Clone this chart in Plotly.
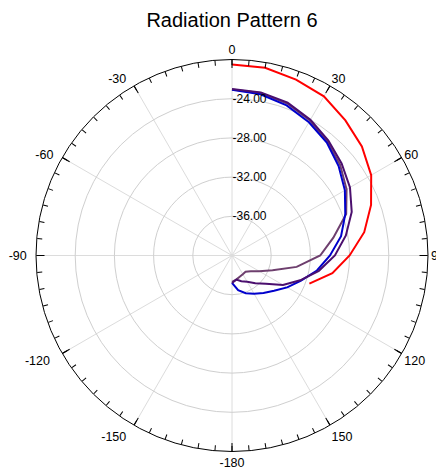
import plotly.graph_objects as go

# Angles (degrees, clockwise from top)
theta_full = [0, 10, 20, 30, 40, 50, 60, 70, 80, 90, 100, 110, 120, 130, 140, 150, 160, 170, 180]
theta_red = [0, 10, 20, 30, 40, 50, 60, 70, 80, 90, 100, 110]

red_vals = [-20.5, -20.55, -20.9, -21.25, -22.0, -22.7, -23.6, -24.9, -26.3, -28.0, -29.6, -31.6]
blue_vals = [-23.1, -23.3, -23.7, -24.3, -24.95, -25.8, -26.7, -27.7, -28.7, -30.0, -31.2, -32.5,
             -33.5, -34.4, -35.0, -35.5, -35.9, -36.4, -37.2]
purple_vals = [-23.0, -23.1, -23.4, -24.0, -24.7, -25.4, -26.1, -27.0, -28.2, -29.5, -31.0, -32.6,
               -34.0, -35.5, -36.3, -36.9, -37.2, -37.5, -37.2]
mauve_vals = [-23.05, -23.15, -23.5, -24.1, -24.85, -25.6, -26.5, -27.6, -29.5, -31.0, -33.3, -35.6,
              -36.8, -37.5, -37.85, -37.8, -37.7, -37.5, -37.3]

radial_ticks = [-36, -32, -28, -24]
radial_labels = ["-36.00", "-32.00", "-28.00", "-24.00"]
angle_ticks = [0, 30, 60, 90, 120, 150, 180, 210, 240, 270, 300, 330]
angle_labels = ["0", "30", "60", "90", "120", "150", "-180",
                "-150\u2002", "-120\u2002\u00a0", "-90\u2002", "-60\u2002", "-30\u2002"]
minor_ticks = list(range(0, 360, 5))

FONT = "Liberation Sans, Arial, sans-serif"
OFF = 8  # page body margin in the browser

fig = go.Figure()
fig.add_trace(go.Scatterpolar(r=mauve_vals, theta=theta_full, mode="lines",
                              line=dict(color="#6e3f6e", width=2), subplot="polar"))
fig.add_trace(go.Scatterpolar(r=blue_vals, theta=theta_full, mode="lines",
                              line=dict(color="#0000cc", width=2), subplot="polar"))
fig.add_trace(go.Scatterpolar(r=purple_vals, theta=theta_full, mode="lines",
                              line=dict(color="#4b0f6e", width=2), subplot="polar"))
fig.add_trace(go.Scatterpolar(r=red_vals, theta=theta_red, mode="lines",
                              line=dict(color="#ff0000", width=2), subplot="polar"))
# empty trace so the overlay subplot (minor ticks) is drawn
fig.add_trace(go.Scatterpolar(r=[], theta=[], mode="lines", subplot="polar2", hoverinfo="skip"))

W, H = 444, 470
cx, cy, R = 232 - OFF, 255.5 - OFF, 196
dom_x = [(cx - R) / W, (cx + R) / W]
dom_y = [(H - cy - R) / H, (H - cy + R) / H]

fig.update_layout(
    width=W, height=H,
    margin=dict(l=0, r=0, t=0, b=0),
    paper_bgcolor="white",
    showlegend=False,
    font=dict(family=FONT, size=12, color="black"),
    title=dict(text="Radiation Pattern 6", x=cx / W, xanchor="center",
               yref="container", y=1 - (20 - OFF) / H, yanchor="middle",
               font=dict(family=FONT, size=20, color="black")),
    polar=dict(
        domain=dict(x=dom_x, y=dom_y),
        bgcolor="white",
        angularaxis=dict(
            rotation=90, direction="clockwise",
            tickmode="array", tickvals=angle_ticks, ticktext=angle_labels,
            ticks="inside", ticklen=8, tickwidth=1, tickcolor="black",
            showline=True, linecolor="black", linewidth=1,
            showgrid=True, gridcolor="#dcdcdc", gridwidth=1,
            tickfont=dict(family=FONT, size=12.5, color="black"),
        ),
        radialaxis=dict(
            range=[-40, -20], angle=90, tickangle=90,
            tickmode="array", tickvals=radial_ticks, ticktext=radial_labels,
            showline=False, ticks="",
            showgrid=True, gridcolor="#cfcfcf", gridwidth=1,
            tickfont=dict(family=FONT, size=12, color="black"),
            side="clockwise",
        ),
    ),
    polar2=dict(
        domain=dict(x=dom_x, y=dom_y),
        bgcolor="rgba(0,0,0,0)",
        angularaxis=dict(
            rotation=90, direction="clockwise",
            tickmode="array", tickvals=minor_ticks,
            ticks="inside", ticklen=5, tickwidth=1, tickcolor="black",
            showticklabels=False, showline=False, showgrid=False,
        ),
        radialaxis=dict(visible=False, range=[-40, -20]),
    ),
)

fig.write_html("out.html")
